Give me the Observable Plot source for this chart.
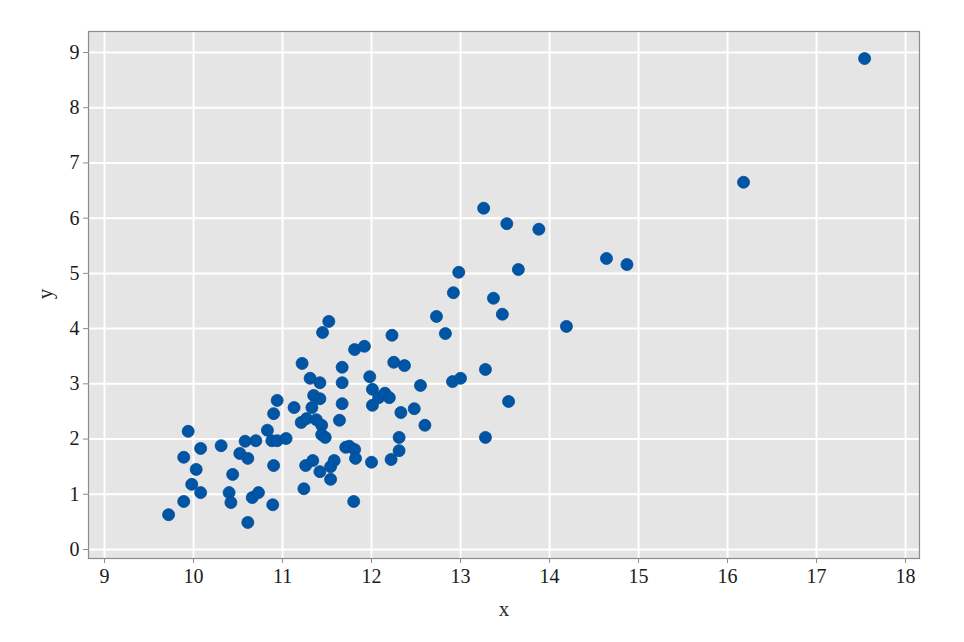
<!DOCTYPE html>
<html>
<head>
<meta charset="utf-8">
<script src="https://cdn.jsdelivr.net/npm/d3@7"></script>
<script src="https://cdn.jsdelivr.net/npm/@observablehq/plot@0.6"></script>
<style>
  html, body { margin: 0; padding: 0; background: #ffffff; }
  #chart { width: 964px; height: 642px; }
  #chart svg text { font-family: "Liberation Serif", "Times New Roman", serif !important; }
</style>
</head>
<body>
<div id="chart"></div>
<script>
const xs = [9.72, 9.89, 9.89, 9.94, 9.98, 10.03, 10.08, 10.08, 10.31, 10.40,
  10.42, 10.44, 10.52, 10.58, 10.61, 10.61, 10.66, 10.70, 10.73, 10.83,
  10.88, 10.89, 10.90, 10.90, 10.94, 10.94, 11.04, 11.13, 11.21, 11.22,
  11.24, 11.26, 11.27, 11.31, 11.33, 11.34, 11.35, 11.38, 11.42, 11.42,
  11.42, 11.44, 11.45, 11.44, 11.48, 11.52, 11.54, 11.54, 11.58, 11.64,
  11.67, 11.67, 11.67, 11.71, 11.75, 11.80, 11.81, 11.81, 11.82, 11.92,
  11.98, 12.00, 12.01, 12.01, 12.08, 12.15, 12.20, 12.22, 12.23, 12.25,
  12.31, 12.31, 12.33, 12.37, 12.48, 12.55, 12.60, 12.73, 12.83, 12.91,
  12.92, 12.98, 13.00, 13.26, 13.28, 13.28, 13.37, 13.47, 13.52, 13.54,
  13.65, 13.88, 14.19, 14.64, 14.87, 16.18, 17.54];
const ys = [0.63, 0.87, 1.67, 2.14, 1.18, 1.45, 1.83, 1.03, 1.88, 1.03,
  0.85, 1.36, 1.74, 1.96, 1.65, 0.49, 0.94, 1.97, 1.03, 2.16,
  1.97, 0.81, 1.52, 2.46, 1.97, 2.70, 2.01, 2.57, 2.30, 3.37,
  1.10, 1.52, 2.37, 3.10, 2.57, 1.61, 2.79, 2.35, 1.41, 3.02,
  2.73, 2.25, 3.93, 2.08, 2.03, 4.13, 1.27, 1.50, 1.61, 2.34,
  2.64, 3.02, 3.30, 1.85, 1.87, 0.87, 3.62, 1.81, 1.65, 3.68,
  3.13, 1.58, 2.90, 2.61, 2.75, 2.83, 2.75, 1.63, 3.88, 3.39,
  1.79, 2.03, 2.48, 3.33, 2.55, 2.97, 2.25, 4.22, 3.91, 3.04,
  4.65, 5.02, 3.10, 6.18, 3.26, 2.03, 4.55, 4.26, 5.90, 2.68,
  5.07, 5.80, 4.04, 5.27, 5.16, 6.65, 8.89];
const xTicks = [9, 10, 11, 12, 13, 14, 15, 16, 17, 18];
const yTicks = [0, 1, 2, 3, 4, 5, 6, 7, 8, 9];
const xLabel = "x";
const yLabel = "y";

const data = xs.map((x, i) => ({x, y: ys[i]}));
const font = "Liberation Serif, Times New Roman, serif";

const chart = Plot.plot({
  width: 964,
  height: 642,
  marginLeft: 88,
  marginRight: 45,
  marginTop: 31,
  marginBottom: 84,
  style: {fontFamily: font, background: "#ffffff", color: "#1a1a1a"},
  x: {domain: [8.82, 18.157], label: null},
  y: {domain: [-0.163, 9.38], label: null},
  marks: [
    Plot.frame({fill: "#e5e5e5", stroke: "none"}),
    Plot.gridX(xTicks, {stroke: "#ffffff", strokeOpacity: 1, strokeWidth: 2}),
    Plot.gridY(yTicks, {stroke: "#ffffff", strokeOpacity: 1, strokeWidth: 2}),
    Plot.frame({stroke: "#8c8c8c", strokeWidth: 1.2}),
    Plot.axisX(xTicks, {tickSize: 5, tickPadding: 5, fontSize: 20, tickFormat: d3.format("d"), stroke: "#8c8c8c", fill: "#1a1a1a", label: null}),
    Plot.axisY(yTicks, {tickSize: 5, tickPadding: 4, fontSize: 20, tickFormat: d3.format("d"), stroke: "#8c8c8c", fill: "#1a1a1a", label: null}),
    Plot.dot(data, {x: "x", y: "y", r: 6, fill: "#0055a4", stroke: "#004a94", strokeWidth: 0.8})
  ]
});
document.getElementById("chart").appendChild(chart);

// Axis titles as real text in the SVG
const svg = d3.select(chart);
svg.append("text").attr("x", 504).attr("y", 616).attr("text-anchor", "middle")
  .attr("font-size", 21).attr("fill", "#2a2a2a").text(xLabel);
svg.append("text").attr("transform", "translate(52,294) rotate(-90)").attr("text-anchor", "middle")
  .attr("font-size", 21).attr("fill", "#2a2a2a").text(yLabel);
</script>
</body>
</html>
